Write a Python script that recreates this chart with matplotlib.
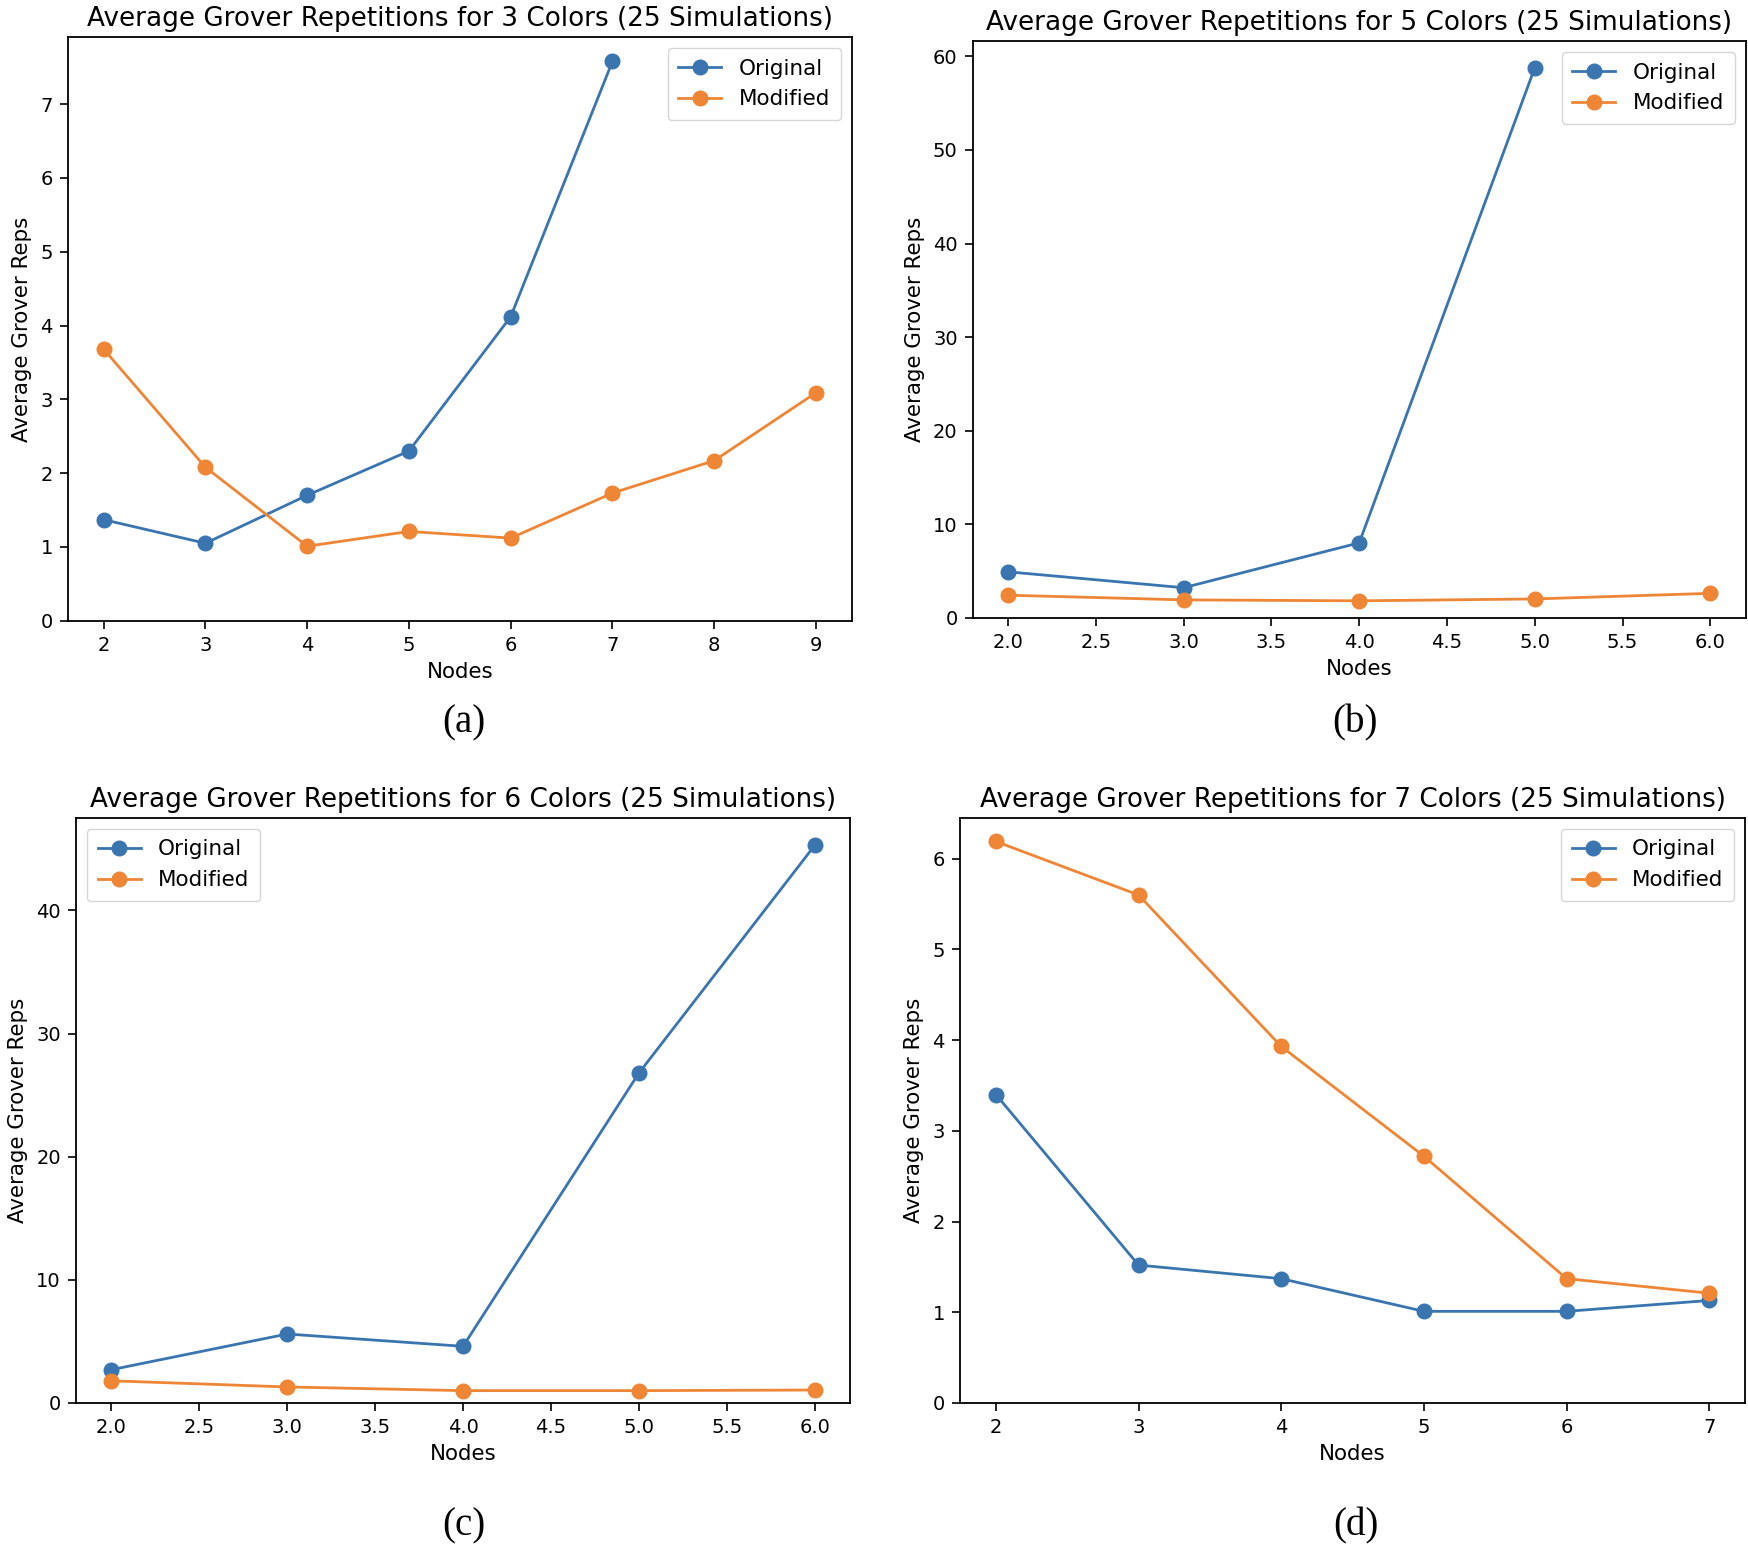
"""
plot.py
Average Grover repetitions, original vs modified, for 3/5/6/7 colours.
"""

import matplotlib
matplotlib.use('Agg')
import matplotlib.pyplot as plt

# ---------- Data ----------
nodes_a_orig = [2, 3, 4, 5, 6, 7]
reps_a_orig = [1.37, 1.05, 1.70, 2.30, 4.12, 7.58]
nodes_a_mod = [2, 3, 4, 5, 6, 7, 8, 9]
reps_a_mod = [3.68, 2.08, 1.01, 1.21, 1.12, 1.73, 2.17, 3.09]

nodes_b_orig = [2.0, 3.0, 4.0, 5.0]
reps_b_orig = [4.9, 3.2, 8.0, 58.8]
nodes_b_mod = [2.0, 3.0, 4.0, 5.0, 6.0]
reps_b_mod = [2.4, 1.9, 1.8, 2.0, 2.6]

nodes_c = [2.0, 3.0, 4.0, 5.0, 6.0]
reps_c_orig = [2.7, 5.6, 4.6, 26.8, 45.3]
reps_c_mod = [1.8, 1.3, 1.0, 1.0, 1.05]

nodes_d = [2, 3, 4, 5, 6, 7]
reps_d_orig = [3.40, 1.52, 1.37, 1.01, 1.01, 1.13]
reps_d_mod = [6.19, 5.60, 3.93, 2.72, 1.37, 1.21]

colors_count = [3, 5, 6, 7]
captions = ['(a)', '(b)', '(c)', '(d)']
legend_locs = ['upper right', 'upper right', 'upper left', 'upper right']

BLUE = '#3a75b0'
ORANGE = '#ee8636'

# ---------- Figure ----------
fig = plt.figure(figsize=(17.49, 15.48), dpi=100)

# axes rectangles [left, bottom, width, height] in figure fractions
rects = [
    [0.0389, 0.599, 0.448, 0.377],
    [0.5563, 0.601, 0.4417, 0.3725],
    [0.0435, 0.0937, 0.4425, 0.3779],
    [0.549, 0.0937, 0.4487, 0.3779],
]
caption_pos = [(0.265, 0.533), (0.775, 0.533), (0.265, 0.0145), (0.775, 0.0145)]

series = [
    (nodes_a_orig, reps_a_orig, nodes_a_mod, reps_a_mod),
    (nodes_b_orig, reps_b_orig, nodes_b_mod, reps_b_mod),
    (nodes_c, reps_c_orig, nodes_c, reps_c_mod),
    (nodes_d, reps_d_orig, nodes_d, reps_d_mod),
]

for i, (xo, yo, xm, ym) in enumerate(series):
    ax = fig.add_axes(rects[i])
    ax.plot(xo, yo, marker='o', color=BLUE, lw=2.0, ms=10.5, label='Original')
    ax.plot(xm, ym, marker='o', color=ORANGE, lw=2.0, ms=10.5, label='Modified')
    ax.set_ylim(bottom=0)
    ax.set_title(f'Average Grover Repetitions for {colors_count[i]} Colors (25 Simulations)',
                 fontsize=18.9, pad=8)
    ax.set_xlabel('Nodes', fontsize=15.4, labelpad=5)
    ax.set_ylabel('Average Grover Reps', fontsize=15.4, labelpad=6)
    ax.tick_params(labelsize=14, width=1.2, length=6, pad=5)
    for sp in ax.spines.values():
        sp.set_linewidth(1.3)
    ax.legend(loc=legend_locs[i], fontsize=15.5, borderpad=0.5)
    fig.text(caption_pos[i][0], caption_pos[i][1], captions[i],
             family='Liberation Serif', fontsize=28, ha='center', va='center')

fig.savefig('out.png', dpi=100)
